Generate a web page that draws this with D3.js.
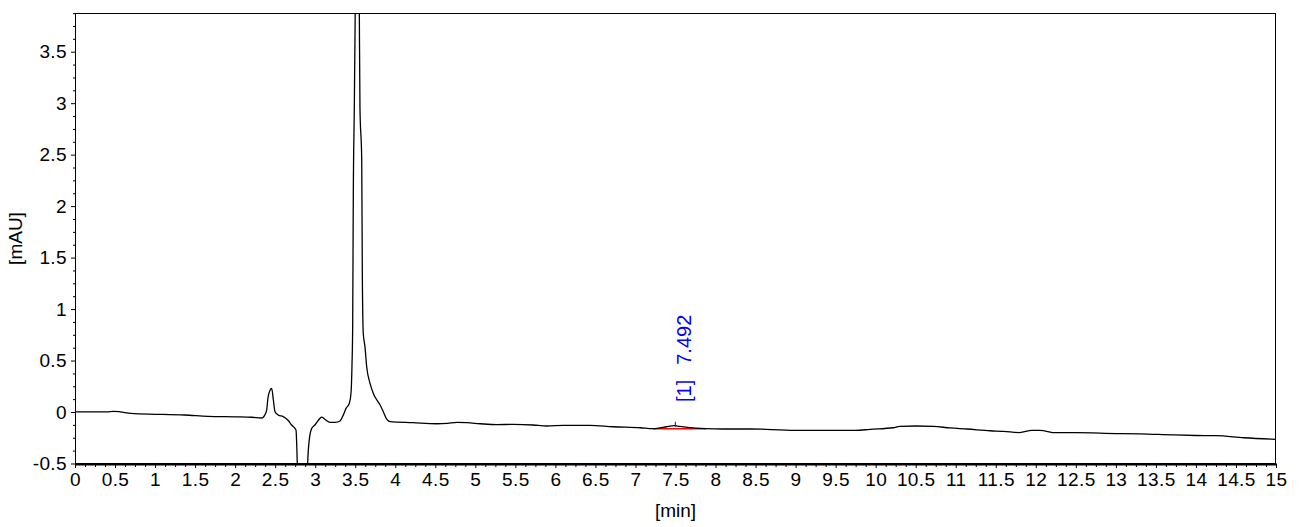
<!DOCTYPE html>
<html>
<head>
<meta charset="utf-8">
<script src="https://cdn.jsdelivr.net/npm/d3@7/dist/d3.min.js"></script>
<style>
  html, body { margin: 0; padding: 0; background: #fff; }
  svg { display: block; }
  text { font-family: "Liberation Sans", Arial, sans-serif; }
</style>
</head>
<body>
<svg id="chart" width="1301" height="527"></svg>
<script>
// ---- data ----
const timeMin = [0.00,0.40,0.48,0.55,0.62,0.79,1.00,1.37,1.66,2.00,2.21,2.33,2.352,2.37,2.394,2.41,2.435,2.456,2.477,2.498,2.54,2.60,2.66,2.706,2.76,2.78,2.80,2.85,2.89,2.906,2.926,2.956,2.997,3.04,3.08,3.12,3.185,3.25,3.31,3.35,3.385,3.426,3.447,3.459,3.468,3.476,3.488,3.50,3.525,3.551,3.559,3.581,3.588,3.60,3.622,3.643,3.684,3.726,3.809,3.85,3.893,3.934,4.22,4.52,4.65,4.77,4.90,5.06,5.27,5.47,5.72,5.89,6.10,6.43,6.72,7.06,7.22,7.39,7.45,7.49,7.55,7.65,7.88,8.09,8.43,8.63,9.05,9.50,9.75,9.93,10.22,10.30,10.51,10.72,10.93,11.14,11.43,11.60,11.80,11.95,12.05,12.25,12.50,13.00,13.30,13.70,14.00,14.25,14.60,15.00];
const absorbance = [0.002,0.002,0.007,0.004,-0.007,-0.019,-0.022,-0.029,-0.042,-0.047,-0.051,-0.058,-0.05,-0.03,0.02,0.136,0.21,0.23,0.12,0.003,-0.03,-0.045,-0.08,-0.126,-0.175,-0.6,-1.2,-1.5,-1.0,-0.5,-0.27,-0.16,-0.126,-0.08,-0.05,-0.07,-0.10,-0.10,-0.087,-0.03,0.035,0.085,0.18,0.44,0.83,2.13,2.93,3.9,7.5,3.9,2.96,2.45,1.41,0.77,0.63,0.44,0.28,0.18,0.07,0.003,-0.07,-0.094,-0.104,-0.114,-0.11,-0.10,-0.104,-0.114,-0.123,-0.120,-0.126,-0.136,-0.130,-0.129,-0.143,-0.153,-0.162,-0.143,-0.135,-0.133,-0.140,-0.150,-0.162,-0.165,-0.165,-0.168,-0.178,-0.178,-0.178,-0.168,-0.153,-0.139,-0.136,-0.139,-0.155,-0.165,-0.182,-0.188,-0.20,-0.178,-0.178,-0.201,-0.201,-0.209,-0.212,-0.222,-0.228,-0.230,-0.25,-0.265];

const xTickLabels = ["0","0.5","1","1.5","2","2.5","3","3.5","4","4.5","5","5.5","6","6.5","7","7.5","8","8.5","9","9.5","10","10.5","11","11.5","12","12.5","13","13.5","14","14.5","15"];
const yTickLabels = ["-0.5","0","0.5","1","1.5","2","2.5","3","3.5"];

const peakLabels = ["[1]", "7.492"];
const peakTime = [7.492];
const peakApex = [-0.133];
const peakBaseTime = [7.22, 7.88];
const peakBaseValue = [-0.162, -0.163];

const xDomain = [0, 15];
const yDomain = [-0.505, 3.876];

// ---- layout ----
const svg = d3.select("#chart");
const L = 75, R = 1276, T = 13, B = 464;
const x = d3.scaleLinear().domain(xDomain).range([L, R]);
const y = d3.scaleLinear().domain(yDomain).range([B, T]);
const FONT = '"Liberation Sans", Arial, sans-serif';

svg.append("defs").append("clipPath").attr("id", "clip")
  .append("rect").attr("x", L).attr("y", T).attr("width", R - L).attr("height", B - T);

// frame
svg.append("rect").attr("x", L + 0.5).attr("y", T + 0.5)
  .attr("width", R - L - 1).attr("height", B - T - 1)
  .attr("fill", "none").attr("stroke", "#000").attr("stroke-width", 1);

// x axis
const xMajor = xTickLabels.map(Number);
const xMinor = d3.range(0, 15.0001, 0.125).filter(v => Math.abs(v * 2 - Math.round(v * 2)) > 1e-6);
const xAxisG = svg.append("g").attr("transform", `translate(0,${B})`);
xAxisG.call(d3.axisBottom(x).tickValues(xMajor).tickSize(4).tickPadding(5)
  .tickFormat((d, i) => xTickLabels[i]));
xAxisG.append("g").call(d3.axisBottom(x).tickValues(xMinor).tickSize(3).tickFormat(""));
xAxisG.selectAll(".domain").remove();
xAxisG.append("line").attr("x1", L).attr("x2", R + 1).attr("y1", 0.5).attr("y2", 0.5)
  .attr("stroke", "#000").attr("stroke-width", 2);
xAxisG.selectAll("text").attr("font-size", 19).attr("fill", "#000")
  .style("font-family", FONT).attr("letter-spacing", "0.4");

// y axis
const yMajor = yTickLabels.map(Number);
const yMinor = d3.range(-0.5, 3.8751, 0.125).filter(v => Math.abs(v * 2 - Math.round(v * 2)) > 1e-6);
const yAxisG = svg.append("g").attr("transform", `translate(${L},0)`);
yAxisG.call(d3.axisLeft(y).tickValues(yMajor).tickSize(4).tickPadding(4)
  .tickFormat((d, i) => yTickLabels[i]));
yAxisG.append("g").call(d3.axisLeft(y).tickValues(yMinor).tickSize(2).tickFormat(""));
yAxisG.selectAll(".domain").remove();
yAxisG.selectAll("text").attr("font-size", 19).attr("fill", "#000")
  .style("font-family", FONT).attr("letter-spacing", "0.4");
svg.selectAll(".tick line").attr("stroke", "#000");

// axis titles
svg.append("text").attr("x", (L + R) / 2).attr("y", 517).attr("text-anchor", "middle")
  .attr("font-size", 19).attr("fill", "#000").text("[min]");
svg.append("text").attr("transform", `translate(22,${(T + B) / 2}) rotate(-90)`)
  .attr("text-anchor", "middle").attr("font-size", 19).attr("fill", "#000").text("[mAU]");

// trace
const pts = timeMin.map((t, i) => [t, absorbance[i]]);
const line = d3.line().x(d => x(d[0])).y(d => y(d[1])).curve(d3.curveMonotoneX);
const plot = svg.append("g").attr("clip-path", "url(#clip)");

// integration baseline (red)
plot.append("line")
  .attr("x1", x(peakBaseTime[0])).attr("x2", x(peakBaseTime[1]))
  .attr("y1", y(peakBaseValue[0])).attr("y2", y(peakBaseValue[1]))
  .attr("stroke", "#ff0000").attr("stroke-width", 1.5);

plot.append("path").datum(pts).attr("d", line)
  .attr("fill", "none").attr("stroke", "#000").attr("stroke-width", 1.3);

// peak marker and label
plot.append("line")
  .attr("x1", x(peakTime[0]) + 0.5).attr("x2", x(peakTime[0]) + 0.5)
  .attr("y1", y(peakApex[0]) - 4).attr("y2", y(peakApex[0]) + 1)
  .attr("stroke", "#0000ff").attr("stroke-width", 1);
const lbl = svg.append("text")
  .attr("transform", `translate(${x(peakTime[0]) + 16},402) rotate(-90)`)
  .attr("font-size", 20).attr("fill", "#0000ff");
lbl.append("tspan").text(peakLabels[0]);
lbl.append("tspan").attr("dx", 15).text(peakLabels[1]);
</script>
</body>
</html>
